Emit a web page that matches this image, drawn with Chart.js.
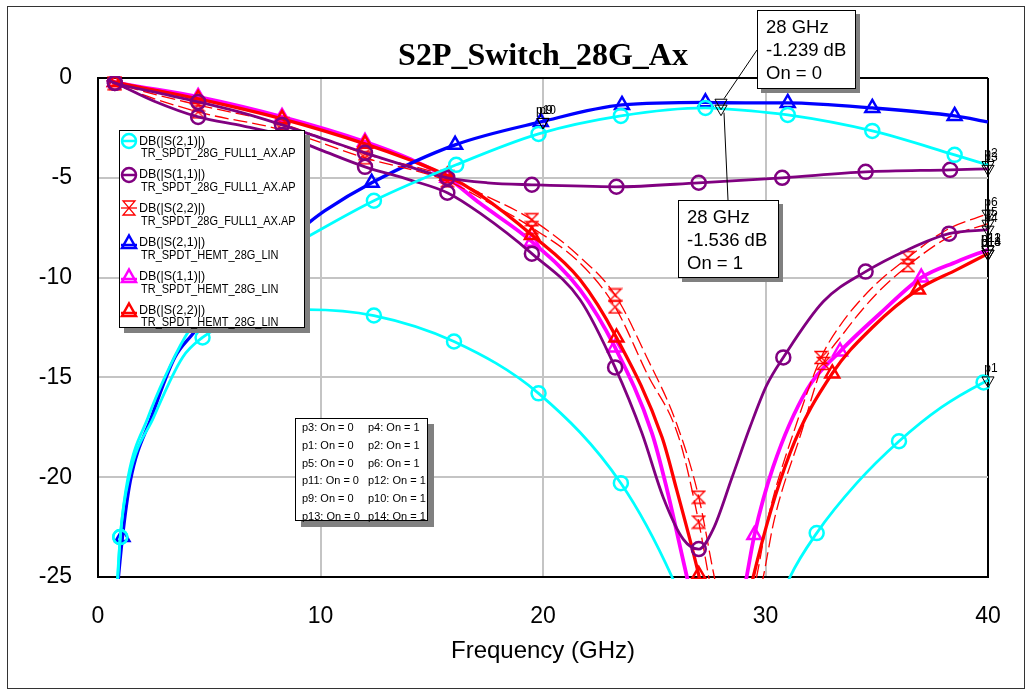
<!DOCTYPE html>
<html>
<head>
<meta charset="utf-8">
<title>S2P_Switch_28G_Ax</title>
<script src="https://cdn.jsdelivr.net/npm/chart.js@4.4.1/dist/chart.umd.min.js"></script>
<style>
  html, body { margin: 0; padding: 0; background: #fff; }
  #wrap { position: relative; width: 1031px; height: 692px; overflow: hidden; font-family: "Liberation Sans", Arial, sans-serif; color: #000; }
  #c { position: absolute; left: 0; top: 0; }
  #frame { position: absolute; left: 7px; top: 6px; width: 1016px; height: 681px; border: 1px solid #333; pointer-events: none; }
  #title { position: absolute; left: 0; top: 38px; width: 1086px; text-align: center; font: bold 32px/32px "Liberation Serif", "Times New Roman", serif; white-space: nowrap; }
  .box { position: absolute; box-sizing: border-box; background: #fff; border: 1px solid #000; }
  #legend { left: 119px; top: 130px; width: 186px; height: 198px; box-shadow: 5px 5px 0 #808080; }
  #legend svg { position: absolute; left: 0; }
  #legend .l1, #legend .l2 { position: absolute; font-size: 12.5px; line-height: 12.5px; white-space: nowrap; }
  #legend .l1 { left: 19px; }
  #legend .l2 { left: 21px; transform: scaleX(0.88); transform-origin: 0 0; }
  .mbox { font-size: 18.5px; line-height: 23px; padding-left: 8px; box-shadow: 4px 4px 0 #808080; white-space: nowrap; }
  #m1 { left: 757px; top: 10px; width: 99px; height: 79px; padding-top: 4px; }
  #m2 { left: 678px; top: 200px; width: 101px; height: 78px; padding-top: 4px; }
  #ptable { left: 295px; top: 418px; width: 133px; height: 103px; box-shadow: 6px 6px 0 #808080; font-size: 11px; line-height: 17.8px; }
  #ptable div { position: absolute; top: 0; white-space: nowrap; }
</style>
</head>
<body>
<div id="wrap">
  <canvas id="c" width="1031" height="692"></canvas>
  <div id="frame"></div>
  <div id="title">S2P_Switch_28G_Ax</div>
  <div id="legend" class="box"></div>
  <div id="ptable" class="box">
    <div style="left:6px">p3: On = 0<br>p1: On = 0<br>p5: On = 0<br>p11: On = 0<br>p9: On = 0<br>p13: On = 0</div>
    <div style="left:72px">p4: On = 1<br>p2: On = 1<br>p6: On = 1<br>p12: On = 1<br>p10: On = 1<br>p14: On = 1</div>
  </div>
  <div id="m1" class="box mbox"></div>
  <div id="m2" class="box mbox"></div>
</div>
<script>
// axis ticks
const xTicks = [0, 10, 20, 30, 40];
const yTicks = [0, -5, -10, -15, -20, -25];

// DB(|S(2,1)|) TR_SPDT_28G_FULL1_AX.AP, On = 1
const fCyan1 = [0.8, 1.0, 1.35, 2.25, 3.0, 3.9, 5.0, 6.5, 8.0, 9.35, 12.4, 16.1, 19.8, 23.5, 27.3, 28, 31.0, 34.8, 38.5, 40];
const dCyan1 = [-26.5, -23.0, -20.0, -17.0, -15.0, -13.0, -11.3, -9.9, -8.85, -8.0, -6.15, -4.35, -2.8, -1.9, -1.5, -1.536, -1.85, -2.65, -3.85, -4.36];
const mCyan1 = [1.0, 12.4, 16.1, 19.8, 23.5, 27.3, 31.0, 34.8, 38.5];
// DB(|S(2,1)|) TR_SPDT_28G_FULL1_AX.AP, On = 0
const fCyan0 = [0.8, 1.0, 1.4, 2.5, 3.8, 4.7, 6.0, 7.5, 9.4, 12.4, 16.0, 19.8, 23.5, 25.8, 26.5, 30.4, 31.1, 32.3, 34.1, 36.0, 37.9, 39.8, 40];
const dCyan0 = [-27, -23.0, -20.0, -17.0, -14.0, -13.0, -12.2, -11.75, -11.6, -11.9, -13.2, -15.8, -20.3, -25.0, -27, -27, -25.0, -22.8, -20.3, -18.2, -16.5, -15.25, -15.15];
const mCyan0 = [1.0, 4.7, 12.4, 16.0, 19.8, 23.5, 32.3, 36.0, 39.8];
// DB(|S(1,1)|) FULL1, flat branch
const fPurpA = [0.4, 0.76, 2.5, 4.5, 6.5, 8.27, 10.0, 12.0, 14.0, 15.7, 17.5, 19.5, 23.3, 27.0, 30.75, 34.5, 38.3, 40];
const dPurpA = [-0.1, -0.25, -0.7, -1.2, -1.75, -2.35, -3.0, -3.75, -4.45, -5.0, -5.25, -5.35, -5.45, -5.25, -5.0, -4.7, -4.6, -4.55];
const mPurpA = [0.76, 4.5, 8.27, 12.0, 15.7, 19.5, 23.3, 27.0, 30.75, 34.5, 38.3];
// DB(|S(1,1)|) FULL1, notch branch
const fPurpB = [0.4, 0.76, 2.5, 4.5, 6.5, 8.27, 10.0, 12.0, 14.0, 15.7, 17.2, 19.5, 21.66, 23.24, 24.45, 25.4, 26.3, 27.0, 27.65, 28.5, 29.3, 30.05, 30.8, 32.6, 34.5, 36.4, 38.25, 40];
const dPurpB = [-0.1, -0.25, -1.15, -1.95, -2.4, -2.85, -3.6, -4.45, -5.1, -5.75, -6.8, -8.8, -11.1, -14.5, -17.8, -21.0, -23.1, -23.6, -22.6, -20.0, -17.5, -15.4, -14.0, -11.2, -9.7, -8.6, -7.8, -7.6];
const mPurpB = [0.76, 4.5, 8.27, 12.0, 15.7, 19.5, 23.24, 27.0, 30.8, 34.5, 38.25];
// DB(|S(2,2)|) FULL1, two branches (dashed)
const fDashA = [0.4, 0.76, 4.5, 8.27, 12.0, 15.7, 17.17, 19.5, 21.66, 23.24, 24.67, 26.0, 27.0, 27.7, 28.1, 29.2, 29.6, 30.1, 31.4, 32.5, 33.35, 34.8, 36.4, 38.15, 40];
const dDashA = [-0.1, -0.25, -1.35, -2.3, -3.8, -4.95, -5.76, -7.1, -8.97, -10.87, -14.0, -17.3, -21.0, -25.0, -27, -27, -25.0, -22.1, -17.3, -14.0, -12.4, -10.5, -9.0, -7.6, -6.8];
const mDashA = [0.76, 4.5, 8.27, 12.0, 15.7, 19.5, 23.24, 27.0, 32.5, 36.4];
const fDashB = [0.4, 0.76, 4.5, 8.27, 12.0, 15.7, 17.17, 19.5, 21.66, 23.24, 24.67, 26.1, 27.0, 27.45, 27.8, 29.5, 29.9, 30.4, 31.6, 32.6, 33.5, 35.0, 36.4, 38.2, 40];
const dDashB = [-0.1, -0.3, -1.7, -2.6, -4.0, -5.15, -6.0, -7.5, -9.27, -11.47, -14.8, -18.0, -22.25, -25.0, -27, -27, -25.0, -22.1, -17.8, -14.3, -12.8, -10.8, -9.4, -8.0, -7.3];
const mDashB = [0.76, 4.5, 8.27, 12.0, 15.7, 19.5, 23.24, 27.0, 32.6, 36.4];
// DB(|S(2,1)|) TR_SPDT_HEMT_28G_LIN
const fBlue = [0.75, 1.1, 1.45, 2.4, 3.45, 4.2, 6.0, 8.0, 9.3, 10.2, 12.3, 16.05, 19.9, 23.55, 27.3, 28, 31.0, 34.8, 38.5, 40];
const dBlue = [-27, -23.0, -20.2, -17.0, -14.0, -12.9, -10.6, -8.55, -7.4, -6.65, -5.25, -3.35, -2.2, -1.35, -1.22, -1.239, -1.25, -1.5, -1.9, -2.2];
const mBlue = [1.1, 12.3, 16.05, 19.9, 23.55, 27.3, 31.0, 34.8, 38.5];
// DB(|S(1,1)|) TR_SPDT_HEMT_28G_LIN
const fMag = [0.4, 0.76, 4.5, 8.27, 12.0, 14.0, 15.7, 17.17, 19.5, 21.66, 23.24, 24.9, 25.57, 26.47, 26.9, 28.8, 29.15, 29.5, 30.34, 31.87, 33.35, 35.15, 37.0, 38.6, 40];
const dMag = [-0.1, -0.2, -0.95, -1.95, -3.2, -4.05, -5.0, -6.28, -8.2, -10.6, -13.5, -17.8, -20.6, -25.0, -27, -27, -25.0, -22.9, -19.5, -15.6, -13.7, -11.8, -10.0, -9.2, -8.6];
const mMag = [0.76, 4.5, 8.27, 12.0, 15.7, 19.5, 23.24, 29.5, 33.35, 37.0];
// DB(|S(2,2)|) TR_SPDT_HEMT_28G_LIN
const fRed = [0.4, 0.76, 4.5, 8.27, 12.0, 14.0, 15.7, 17.17, 19.5, 21.66, 23.3, 25.35, 26.0, 27.0, 27.5, 29.0, 29.45, 31.1, 33.0, 34.8, 36.85, 38.6, 40];
const dRed = [-0.1, -0.2, -1.05, -2.05, -3.3, -4.1, -4.9, -5.86, -7.87, -10.1, -13.0, -18.0, -20.6, -24.9, -27.5, -27.5, -25.0, -18.8, -14.8, -12.5, -10.6, -9.6, -8.8];
const mRed = [0.76, 4.5, 8.27, 12.0, 15.7, 19.5, 23.3, 27.0, 33.0, 36.85];

// p markers
const pNames = ['p1', 'p2', 'p3', 'p4', 'p5', 'p6', 'p9', 'p10', 'p11', 'p12', 'p13', 'p14'];
const pFreq = [40, 40, 40, 40, 40, 40, 20, 20, 40, 40, 40, 40];
const pDb = [-15.15, -4.36, -4.55, -7.6, -7.3, -6.8, -2.2, -2.2, -8.6, -8.6, -8.8, -8.8];
// 28 GHz readout markers
const mkFreq = [28, 28];
const mkDb = [-1.239, -1.536];
const mkOn = [0, 1];

// legend
const legendNames = ['DB(|S(2,1)|)', 'DB(|S(1,1)|)', 'DB(|S(2,2)|)', 'DB(|S(2,1)|)', 'DB(|S(1,1)|)', 'DB(|S(2,2)|)'];
const legendFiles = ['TR_SPDT_28G_FULL1_AX.AP', 'TR_SPDT_28G_FULL1_AX.AP', 'TR_SPDT_28G_FULL1_AX.AP', 'TR_SPDT_HEMT_28G_LIN', 'TR_SPDT_HEMT_28G_LIN', 'TR_SPDT_HEMT_28G_LIN'];
const legendIcons = ['circle', 'circle', 'hourglass', 'triangle', 'triangle', 'triangle'];
const legendColors = ['#00ffff', '#800080', '#ff0000', '#0000ff', '#ff00ff', '#ff0000'];

function iconSvg(type, color) {
    let s = '<svg width="18" height="18" viewBox="0 0 18 18">';
    if (type === 'circle') {
        s += '<line x1="1" y1="9" x2="17" y2="9" stroke="' + color + '" stroke-width="2.5"/>' +
             '<circle cx="9" cy="9" r="7" fill="none" stroke="' + color + '" stroke-width="2.5"/>';
    } else if (type === 'triangle') {
        s += '<line x1="1" y1="12" x2="17" y2="12" stroke="' + color + '" stroke-width="2.5"/>' +
             '<polygon points="9,2.5 16,15 2,15" fill="none" stroke="' + color + '" stroke-width="2.5"/>';
    } else {
        s += '<line x1="1" y1="9" x2="17" y2="9" stroke="' + color + '" stroke-width="1.3"/>' +
             '<path d="M3 2 H15 L3 16 H15 Z" fill="none" stroke="' + color + '" stroke-width="1.3"/>';
    }
    return s + '</svg>';
}

const legendEl = document.getElementById('legend');
legendNames.forEach(function(name, i) {
    const top = 33.8 * i;
    legendEl.insertAdjacentHTML('beforeend',
        '<div style="position:absolute;left:0;top:' + (0.7 + top) + 'px">' + iconSvg(legendIcons[i], legendColors[i]) + '</div>' +
        '<div class="l1" style="top:' + (3.6 + top) + 'px">' + name + '</div>' +
        '<div class="l2" style="top:' + (16.4 + top) + 'px">' + legendFiles[i] + '</div>');
});

['m1', 'm2'].forEach(function(id, i) {
    document.getElementById(id).innerHTML =
        mkFreq[i] + ' GHz<br>' + mkDb[i].toFixed(3) + ' dB<br>On = ' + mkOn[i];
});

// hourglass marker
const hourglass = document.createElement('canvas');
hourglass.width = 15;
hourglass.height = 15;
(function() {
    const g = hourglass.getContext('2d');
    g.strokeStyle = '#ff0000';
    g.lineWidth = 1.3;
    g.beginPath();
    g.moveTo(1.5, 1.5); g.lineTo(13.5, 1.5); g.lineTo(1.5, 13.5); g.lineTo(13.5, 13.5); g.closePath();
    g.stroke();
})();

function series(freq, db) {
    return freq.map(function(f, i) { return { x: f, y: db[i] }; });
}

function trace(freq, db, marks, color, width, style, dash, r) {
    return {
        data: series(freq, db),
        borderColor: color,
        borderWidth: width,
        borderDash: dash || [],
        pointStyle: style,
        pointRadius: function(ctx) { return ctx.raw && marks.indexOf(ctx.raw.x) >= 0 ? r : 0; },
        pointBorderColor: color,
        pointBorderWidth: 2.5,
        pointBackgroundColor: 'rgba(0,0,0,0)',
        cubicInterpolationMode: 'monotone',
        fill: false,
        clip: 2
    };
}

const markerLabels = {
    id: 'markerLabels',
    afterDatasetsDraw(chart) {
        const ctx = chart.ctx;
        const x = chart.scales.x;
        const y = chart.scales.y;
        ctx.save();
        ctx.fillStyle = '#000';
        ctx.font = '12px "Liberation Sans", Arial, sans-serif';
        ctx.textAlign = 'center';
        ctx.textBaseline = 'alphabetic';
        pNames.forEach(function(n, i) {
            ctx.fillText(n, x.getPixelForValue(pFreq[i]) + 3, y.getPixelForValue(pDb[i]) - 8);
        });
        // connectors to readout boxes
        const anchors = [[757, 50], [728, 200]];
        ctx.strokeStyle = '#000';
        ctx.lineWidth = 1;
        mkFreq.forEach(function(f, i) {
            const px = x.getPixelForValue(f);
            const py = y.getPixelForValue(mkDb[i]);
            ctx.beginPath();
            ctx.moveTo(px + 3, py + (i === 0 ? -4 : 4));
            ctx.lineTo(anchors[i][0], anchors[i][1]);
            ctx.stroke();
        });
        ctx.restore();
    }
};

const axisFont = { family: '"Liberation Sans", Arial, sans-serif', size: 23 };

new Chart(document.getElementById('c').getContext('2d'), {
    type: 'line',
    data: {
        datasets: [
            {
                data: series(pFreq, pDb),
                showLine: false,
                pointStyle: 'triangle',
                rotation: 180,
                pointRadius: 7,
                pointBorderColor: '#000',
                pointBorderWidth: 1,
                pointBackgroundColor: 'rgba(0,0,0,0)',
                clip: false
            },
            {
                data: series(mkFreq, mkDb),
                showLine: false,
                pointStyle: 'triangle',
                rotation: 180,
                pointRadius: 7,
                pointBorderColor: '#000',
                pointBorderWidth: 1,
                pointBackgroundColor: 'rgba(0,0,0,0)',
                clip: false
            },
            trace(fCyan1, dCyan1, mCyan1, '#00ffff', 2.8, 'circle', null, 7),
            trace(fCyan0, dCyan0, mCyan0, '#00ffff', 2.8, 'circle', null, 7),
            trace(fPurpA, dPurpA, mPurpA, '#800080', 2.8, 'circle', null, 7),
            trace(fPurpB, dPurpB, mPurpB, '#800080', 2.8, 'circle', null, 7),
            trace(fDashA, dDashA, mDashA, '#ff0000', 1.3, hourglass, [14, 5], 7),
            trace(fDashB, dDashB, mDashB, '#ff0000', 1.3, hourglass, [14, 5], 7),
            trace(fBlue, dBlue, mBlue, '#0000ff', 3.3, 'triangle', null, 8),
            trace(fRed, dRed, mRed, '#ff0000', 3.3, 'triangle', null, 8),
            trace(fMag, dMag, mMag, '#ff00ff', 3.8, 'triangle', null, 8)
        ]
    },
    options: {
        responsive: false,
        animation: false,
        events: [],
        layout: { padding: { left: 0, top: 78, right: 43, bottom: 0 } },
        plugins: {
            legend: { display: false },
            tooltip: { enabled: false },
            title: { display: false }
        },
        scales: {
            x: {
                type: 'linear',
                min: 0,
                max: 40,
                afterBuildTicks: function(s) { s.ticks = xTicks.map(function(v) { return { value: v }; }); },
                afterFit: function(s) { s.height = 115; },
                ticks: { color: '#000', font: axisFont, padding: 26, maxRotation: 0, callback: function(v) { return String(v); } },
                grid: {
                    drawTicks: false,
                    lineWidth: 2,
                    color: function(c) { return c.tick.value === 40 ? '#000' : (c.tick.value === 0 ? 'rgba(0,0,0,0)' : '#c4c4c4'); }
                },
                border: { display: true, color: '#000', width: 2 },
                title: {
                    display: true,
                    text: 'Frequency (GHz)',
                    color: '#000',
                    font: { family: '"Liberation Sans", Arial, sans-serif', size: 24 },
                    padding: { top: 0, bottom: 26 }
                }
            },
            y: {
                type: 'linear',
                min: -25,
                max: 0,
                afterBuildTicks: function(s) { s.ticks = yTicks.map(function(v) { return { value: v }; }); },
                afterFit: function(s) { s.width = 98; },
                ticks: { color: '#000', font: axisFont, padding: 26, callback: function(v) { return String(v); } },
                grid: {
                    drawTicks: false,
                    lineWidth: 2,
                    color: function(c) { return c.tick.value === 0 ? '#000' : (c.tick.value === -25 ? 'rgba(0,0,0,0)' : '#c4c4c4'); }
                },
                border: { display: true, color: '#000', width: 2 }
            }
        }
    },
    plugins: [markerLabels]
});
</script>
</body>
</html>
